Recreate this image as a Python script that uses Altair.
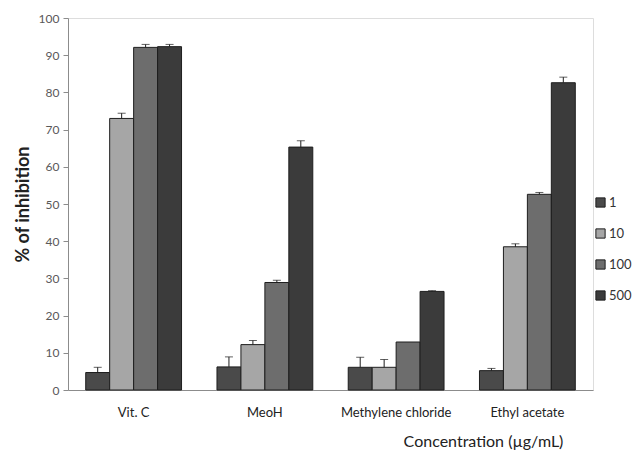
import altair as alt
import pandas as pd

groups = ["Vit. C", "MeoH", "Methylene chloride", "Ethyl acetate"]
concs = ["1", "10", "100", "500"]
values = {
    "1":   [4.7, 6.2, 6.1, 5.2],
    "10":  [73.0, 12.2, 6.1, 38.5],
    "100": [92.1, 28.9, 12.9, 52.6],
    "500": [92.3, 65.3, 26.5, 82.6],
}
errors = {
    "1":   [1.4, 2.7, 2.7, 0.6],
    "10":  [1.4, 1.1, 2.1, 0.8],
    "100": [0.8, 0.6, 0.0, 0.5],
    "500": [0.6, 1.7, 0.2, 1.5],
}
colors = ["#4a4a4a", "#a6a6a6", "#6d6d6d", "#3b3b3b"]

rows = []
for c in concs:
    for i, g in enumerate(groups):
        v = values[c][i]
        e = errors[c][i]
        rows.append({"group": g, "conc": c, "value": v, "top": v + e, "err": e})
df = pd.DataFrame(rows)

FONT = "Lato"

x = alt.X("group:N", sort=groups, scale=alt.Scale(paddingInner=0.27, paddingOuter=0.135),
          axis=alt.Axis(title="Concentration (µg/mL)", labelAngle=0, ticks=False,
                        labelFontSize=13, labelColor="#222222", labelPadding=16,
                        domainColor="#8c8c8c", titleFontSize=16, titleFontWeight="normal",
                        titleColor="#222222", titleX=415, titleY=56, titleAnchor="middle",
                        titleAlign="center", titleBaseline="alphabetic", labelFont=FONT, titleFont=FONT))
xo = alt.XOffset("conc:N", sort=concs, scale=alt.Scale(paddingInner=0, paddingOuter=0))

yscale = alt.Scale(domain=[0, 100], nice=False)
yaxis = alt.Axis(title="% of inhibition", values=list(range(0, 101, 10)), grid=False,
                 tickColor="#8c8c8c", tickSize=5, domainColor="#8c8c8c",
                 labelColor="#595959", labelFontSize=12, labelPadding=4, labelOverlap=False,
                 titleFontSize=18, titleFontWeight="bold", titleColor="#222222",
                 titlePadding=6, labelFont=FONT, titleFont=FONT)

bars = alt.Chart(df).mark_bar(stroke="#1e1e1e", strokeWidth=1).encode(
    x=x,
    xOffset=xo,
    y=alt.Y("value:Q", scale=yscale, axis=yaxis),
    color=alt.Color("conc:N", sort=concs, scale=alt.Scale(domain=concs, range=colors),
                    legend=alt.Legend(title=None, orient="none", legendX=526, legendY=178,
                                      symbolType="square", symbolSize=85,
                                      symbolStrokeColor="#1e1e1e", symbolStrokeWidth=1,
                                      labelFontSize=13, labelColor="#333333", labelFont=FONT,
                                      rowPadding=16, labelOffset=2)),
)

err_df = df[df["err"] > 0]
rules = alt.Chart(err_df).mark_rule(color="#1e1e1e", strokeWidth=1).encode(
    x=x, xOffset=xo, y=alt.Y("value:Q", scale=yscale, axis=yaxis), y2="top:Q")
caps = alt.Chart(err_df).mark_tick(color="#1e1e1e", thickness=1, size=8, orient="horizontal").encode(
    x=x, xOffset=xo, y=alt.Y("top:Q", scale=yscale, axis=yaxis))

chart = alt.layer(bars, rules, caps).properties(
    width=525, height=372,
    autosize=alt.AutoSizeParams(type="none"),
    padding={"left": 60, "top": 10, "right": 39, "bottom": 60},
).configure_view(stroke=None).configure(font=FONT)

chart.save("out.html", embed_options={"renderer": "svg", "actions": False})
